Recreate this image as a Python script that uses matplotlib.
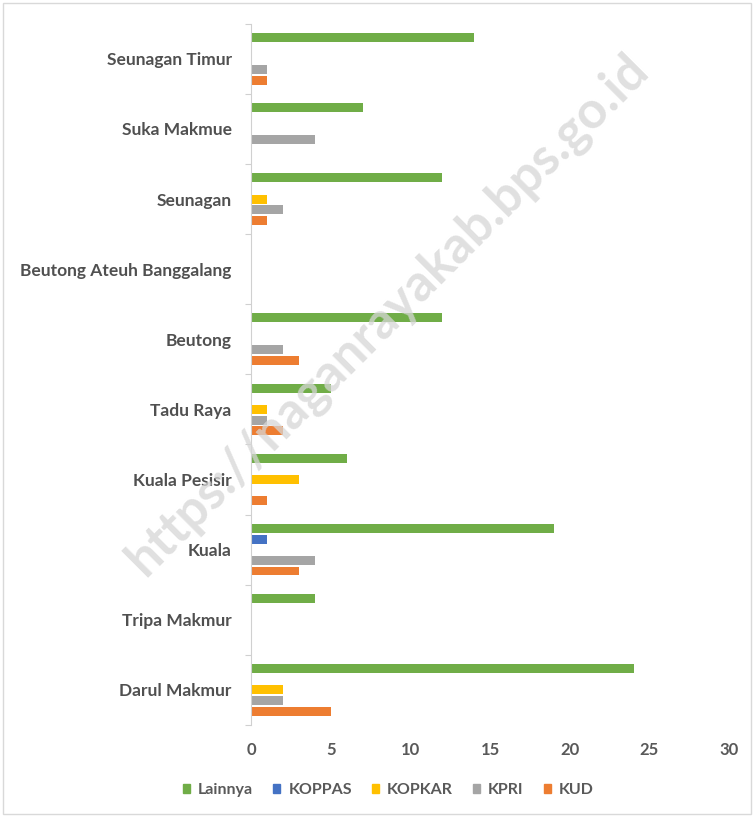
import numpy as np
import matplotlib
matplotlib.use("Agg")
from matplotlib import pyplot as plt
from matplotlib.patches import Patch, Rectangle

# kecamatan, from bottom to top
kecamatan = ['Darul Makmur', 'Tripa Makmur', 'Kuala', 'Kuala Pesisir', 'Tadu Raya',
             'Beutong', 'Beutong Ateuh Banggalang', 'Seunagan', 'Suka Makmue',
             'Seunagan Timur']
series_names = ['Lainnya', 'KOPPAS', 'KOPKAR', 'KPRI', 'KUD']
lainnya = [24, 4, 19, 6, 5, 12, 0, 12, 7, 14]
koppas = [0, 0, 1, 0, 0, 0, 0, 0, 0, 0]
kopkar = [2, 0, 0, 3, 1, 0, 0, 1, 0, 0]
kpri = [2, 0, 4, 0, 1, 2, 0, 2, 4, 1]
kud = [5, 0, 3, 1, 2, 3, 0, 1, 0, 1]
xticks = [0, 5, 10, 15, 20, 25, 30]

colors = ['#70AD47', '#4472C4', '#FFC000', '#A5A5A5', '#ED7D31']
plt.rcParams['font.family'] = ['Lato', 'DejaVu Sans']

fig = plt.figure(figsize=(7.54, 8.17), dpi=100)
ax = fig.add_axes([0.333, 0.1126, 0.634, 0.8584])

y = np.arange(len(kecamatan))
w = 0.152
data = [lainnya, koppas, kopkar, kpri, kud]
for k, (vals, col) in enumerate(zip(data, colors)):
    ax.barh(y + (2 - k) * w, vals, height=0.128, color=col, label=series_names[k])

ax.set_ylim(-0.5, len(kecamatan) - 0.5)
ax.set_xlim(0, 30)
ax.set_xticks(xticks)
ax.set_yticks(y)
ax.set_yticklabels(kecamatan)
ax.set_yticks(np.arange(-0.5, len(kecamatan)), minor=True)
ax.tick_params(axis='y', which='major', length=0, pad=14, labelsize=12.5,
               labelcolor='#505050')
ax.tick_params(axis='y', which='minor', length=4, color='#D0D0D0', width=0.8)
ax.tick_params(axis='x', length=0, pad=12, labelsize=12, labelcolor='#595959')
for lab in ax.get_yticklabels() + ax.get_xticklabels():
    lab.set_fontweight('bold')
for s in ['top', 'right', 'bottom']:
    ax.spines[s].set_visible(False)
ax.spines['left'].set_color('#D0D0D0')
ax.spines['left'].set_linewidth(0.8)

handles = [Patch(color=c) for c in colors]
leg = fig.legend(handles, series_names, loc='center', bbox_to_anchor=(0.515, 0.033),
                 ncol=5, frameon=False, handlelength=0.45, handleheight=0.45,
                 columnspacing=1.25, handletextpad=0.5,
                 prop={'size': 11.5, 'weight': 'bold'})
for t in leg.get_texts():
    t.set_color('#595959')

# watermark
fig.text(0.515, 0.615, 'https://naganrayakab.bps.go.id', rotation=45,
         ha='center', va='center', fontsize=37, fontweight='bold',
         color='#D6D6D6', alpha=0.75, zorder=5)

fig.patches.append(Rectangle((0.004, 0.004), 0.992, 0.992, transform=fig.transFigure,
                             fill=False, edgecolor='#D9D9D9', linewidth=1))

fig.savefig('out.png', dpi=100)
